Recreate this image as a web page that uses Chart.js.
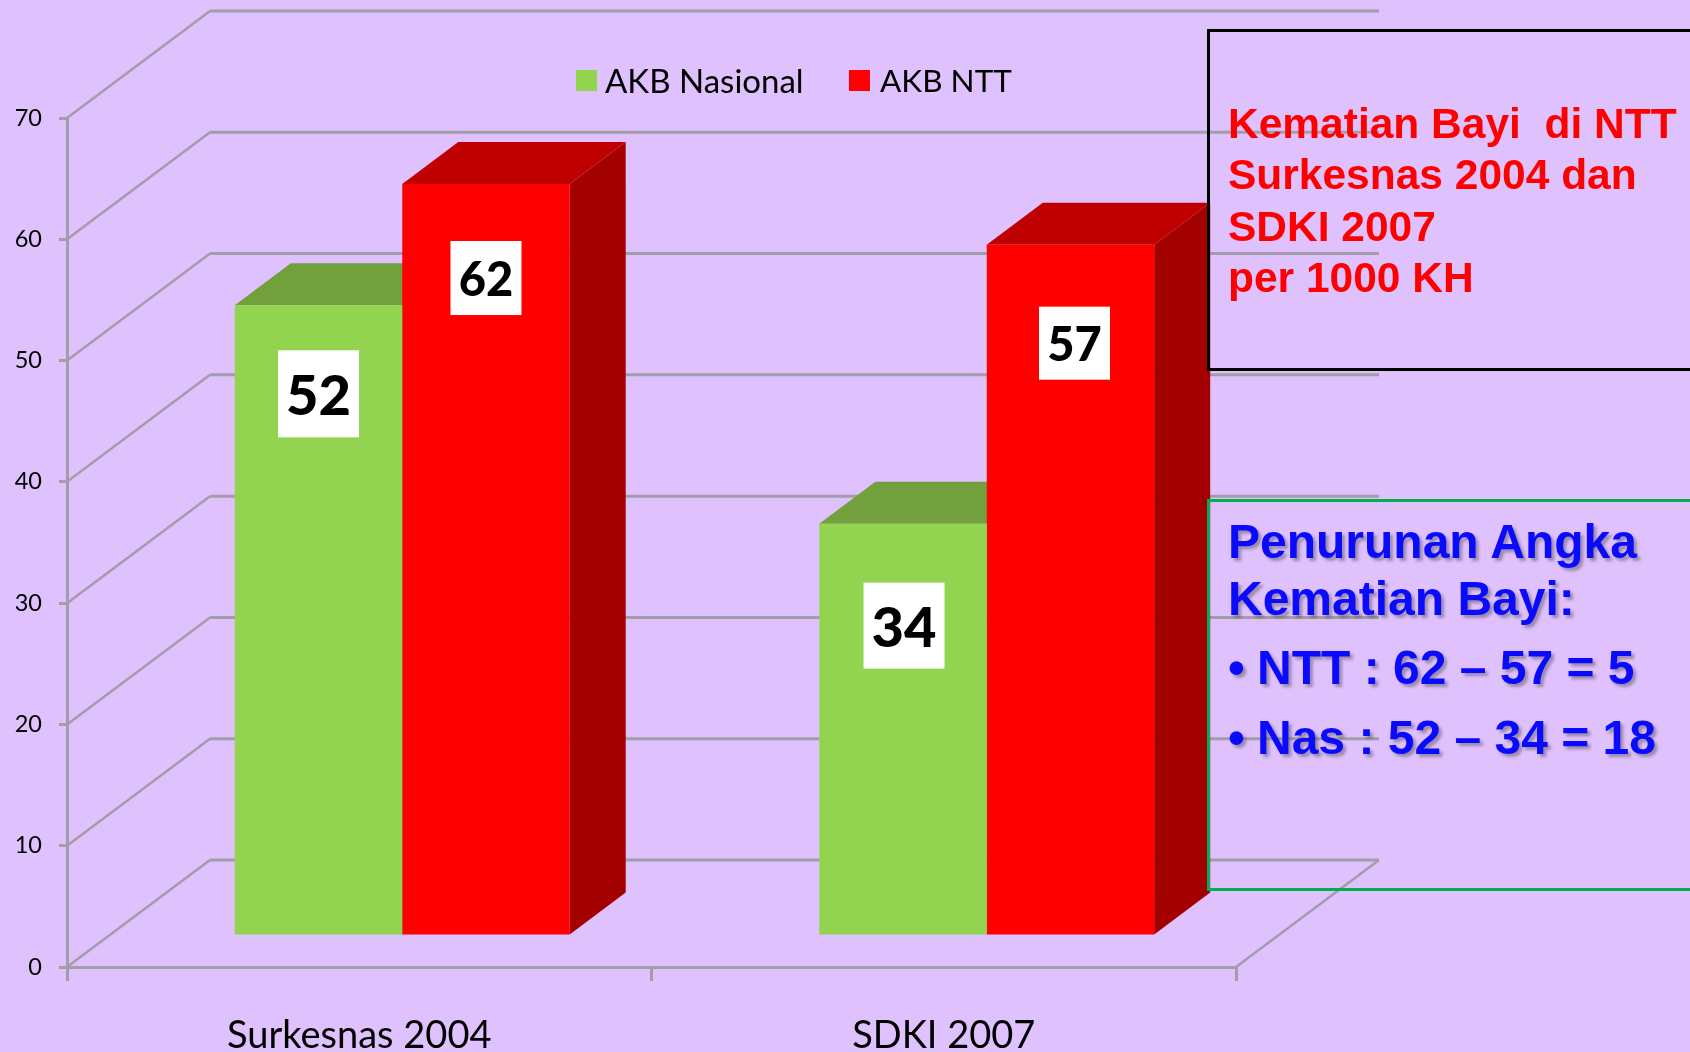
<!DOCTYPE html>
<html lang="id">
<head>
    <title>Kematian Bayi di NTT</title>
    <meta charset="utf-8" />
    <script src="https://cdn.jsdelivr.net/npm/chart.js@4/dist/chart.umd.min.js"></script>
    <style>
        html, body { margin: 0; width: 1690px; height: 1052px; overflow: hidden; background: #dfc1fe; }
        canvas { position: absolute; left: 0; top: 0; }
        .box { position: absolute; left: 1207px; width: 600px; box-sizing: border-box; }
        .line { position: absolute; left: 1228px; white-space: pre; font-family: "Liberation Sans", sans-serif; font-weight: bold; }
        .red { color: #ff0000; font-size: 42.5px; line-height: 51.3px; }
        .blue { color: #0a0aff; font-size: 48px; line-height: 57px; text-shadow: 3px 3px 3px rgba(70, 70, 70, 0.45); }
        .bullet { display: inline-block; width: 29px; }
    </style>
</head>
<body>
    <canvas id="chartCanvas" width="1690" height="1052"></canvas>
    <div class="box" style="top:29px;height:342px;border:3px solid #000"></div>
    <div class="box" style="top:499px;height:392px;border:3px solid #00b050"></div>
    <div class="line red" style="top:98px">Kematian Bayi  di NTT
Surkesnas 2004 dan
SDKI 2007
per 1000 KH</div>
    <div class="line blue" style="top:513px">Penurunan Angka</div>
    <div class="line blue" style="top:570px">Kematian Bayi:</div>
    <div class="line blue" style="top:639px"><span class="bullet">•</span>NTT : 62 – 57 = 5</div>
    <div class="line blue" style="top:709px"><span class="bullet">•</span>Nas : 52 – 34 = 18</div>

    <script type="text/javascript">
        const categories = ['Surkesnas 2004', 'SDKI 2007'];
        const akbNasional = [52, 34];
        const akbNtt = [62, 57];
        const yTicks = [0, 10, 20, 30, 40, 50, 60, 70];

        const gridColor = '#a39ca9';
        const fontName = 'Lato, sans-serif';
        // depth of the fake 3d box around the plot, and of the bars inside it
        const wall = { dx: 143, dy: -107 };
        const depth = { dx: 56, dy: -42 };
        const barShift = { x: 43, y: -31 };

        const topColors = ['#71a03d', '#c00000'];
        const sideColors = ['#5f8a33', '#a30000'];

        // white value boxes, [dataset][category]
        const valueBoxes = [
            [{ dx: 0, dy: 88.5, w: 81, h: 87, size: 56 }, { dx: 1, dy: 102, w: 81, h: 86, size: 56 }],
            [{ dx: 0, dy: 94, w: 71, h: 74, size: 47 }, { dx: 4, dy: 98.5, w: 71, h: 73, size: 47 }]
        ];

        function fillPoly(ctx, color, pts) {
            ctx.fillStyle = color;
            ctx.beginPath();
            ctx.moveTo(pts[0][0], pts[0][1]);
            for (let i = 1; i < pts.length; i++) {
                ctx.lineTo(pts[i][0], pts[i][1]);
            }
            ctx.closePath();
            ctx.fill();
        }

        const threeD = {
            id: 'threeD',
            beforeDatasetsDraw(chart) {
                const ctx = chart.ctx;
                const y = chart.scales.y;
                const area = chart.chartArea;
                ctx.save();
                ctx.strokeStyle = gridColor;
                for (const v of yTicks) {
                    const py = y.getPixelForValue(v);
                    ctx.lineWidth = 2.5;
                    ctx.beginPath();
                    ctx.moveTo(area.left, py);
                    ctx.lineTo(area.left + wall.dx, py + wall.dy);
                    ctx.stroke();
                    ctx.lineWidth = 3;
                    ctx.beginPath();
                    ctx.moveTo(area.left + wall.dx, py + wall.dy);
                    ctx.lineTo(area.right + wall.dx, py + wall.dy);
                    ctx.stroke();
                    if (v === 0) {
                        ctx.lineWidth = 2.5;
                        ctx.beginPath();
                        ctx.moveTo(area.right + wall.dx, py + wall.dy);
                        ctx.lineTo(area.right, py);
                        ctx.stroke();
                    }
                }
                ctx.restore();
                // bars stand inside the floor, not on the front edge
                ctx.save();
                ctx.translate(barShift.x, barShift.y);
                // sides and tops go first, chart.js paints the front faces over them
                chart.data.datasets.forEach(function (ds, i) {
                    for (const bar of chart.getDatasetMeta(i).data) {
                        const l = bar.x - bar.width / 2;
                        const r = bar.x + bar.width / 2;
                        fillPoly(ctx, sideColors[i], [[r, bar.y], [r + depth.dx, bar.y + depth.dy], [r + depth.dx, bar.base + depth.dy], [r, bar.base]]);
                        fillPoly(ctx, topColors[i], [[l, bar.y], [l + depth.dx, bar.y + depth.dy], [r + depth.dx, bar.y + depth.dy], [r, bar.y]]);
                    }
                });
            },
            afterDatasetsDraw(chart) {
                const ctx = chart.ctx;
                ctx.textAlign = 'center';
                ctx.textBaseline = 'middle';
                chart.data.datasets.forEach(function (ds, i) {
                    chart.getDatasetMeta(i).data.forEach(function (bar, j) {
                        const b = valueBoxes[i][j];
                        const cx = bar.x + b.dx;
                        const cy = bar.y + b.dy;
                        ctx.fillStyle = '#ffffff';
                        ctx.fillRect(cx - b.w / 2, cy - b.h / 2, b.w, b.h);
                        ctx.fillStyle = '#000000';
                        ctx.font = '900 ' + b.size + 'px ' + fontName;
                        ctx.fillText(String(ds.data[j]), cx, cy + 3);
                    });
                });
                ctx.restore();
            },
            afterDraw(chart) {
                // legend sits above the plot, off centre
                const ctx = chart.ctx;
                const spots = [{ box: 576, text: 605, size: 33 }, { box: 849, text: 880, size: 31.5 }];
                ctx.save();
                ctx.textAlign = 'left';
                ctx.textBaseline = 'middle';
                chart.data.datasets.forEach(function (ds, i) {
                    ctx.fillStyle = ds.backgroundColor;
                    ctx.fillRect(spots[i].box, 70, 21, 21);
                    ctx.fillStyle = '#000000';
                    ctx.font = spots[i].size + 'px ' + fontName;
                    ctx.fillText(ds.label, spots[i].text, 82);
                });
                ctx.restore();
            }
        };

        const plotChart = new Chart(document.getElementById('chartCanvas').getContext('2d'), {
            type: 'bar',
            plugins: [threeD],
            data: {
                labels: categories,
                datasets: [
                    { label: 'AKB Nasional', data: akbNasional, backgroundColor: '#92d350', clip: false },
                    { label: 'AKB NTT', data: akbNtt, backgroundColor: '#ff0000', clip: false }
                ]
            },
            options: {
                responsive: false,
                animation: false,
                layout: { padding: { top: 118, right: 454, left: 0, bottom: 0 } },
                plugins: { legend: { display: false }, tooltip: { enabled: false } },
                datasets: { bar: { categoryPercentage: 0.573, barPercentage: 1 } },
                scales: {
                    x: {
                        afterFit(scale) { scale.height = 85; },
                        border: { color: gridColor, width: 3 },
                        grid: { color: gridColor, lineWidth: 3, drawOnChartArea: false, tickLength: 14 },
                        ticks: { color: '#000000', font: { family: fontName, size: 38 }, padding: 32, maxRotation: 0 }
                    },
                    y: {
                        min: 0,
                        max: 70,
                        afterFit(scale) { scale.width = 67; },
                        afterBuildTicks(scale) { scale.ticks = yTicks.map((v) => ({ value: v })); },
                        border: { color: gridColor, width: 3 },
                        grid: { color: gridColor, lineWidth: 3, drawOnChartArea: false, tickLength: 8 },
                        ticks: { color: '#000000', font: { family: fontName, size: 23.5 }, padding: 17 }
                    }
                }
            }
        });
    </script>
</body>
</html>
